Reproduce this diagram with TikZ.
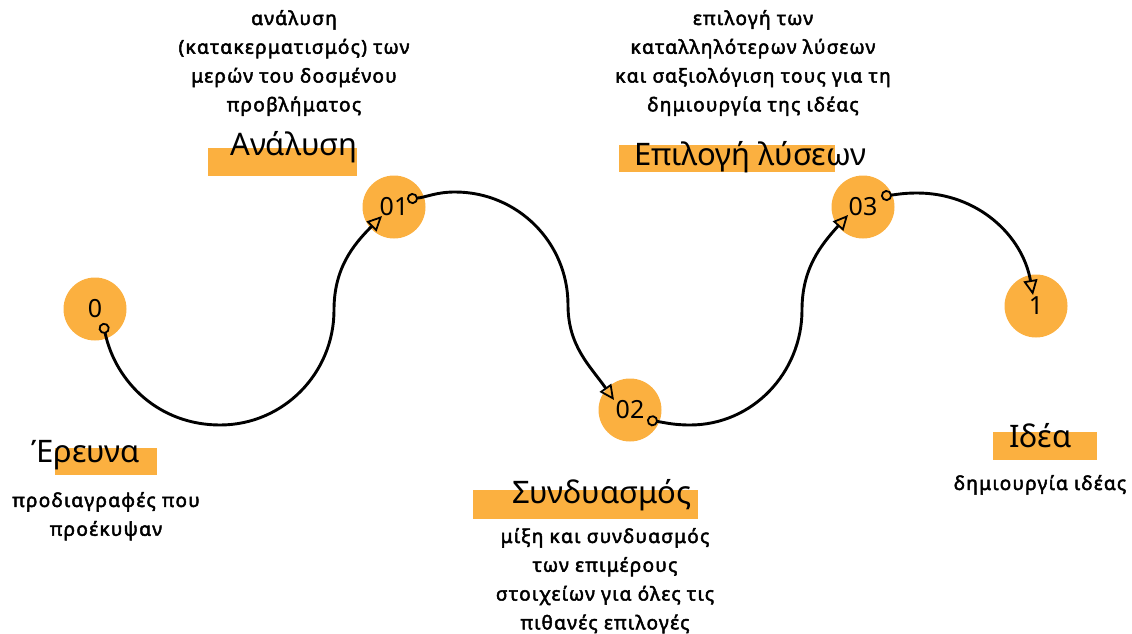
\documentclass[tikz,border=0pt]{standalone}
\usepackage{fontspec}
\setmainfont{Noto Sans}
\newfontfamily\descfont[FakeBold=2.6,LetterSpace=7]{Noto Sans}
\usetikzlibrary{arrows.meta}
\definecolor{accent}{RGB}{251,176,64}
\tikzset{
  stage/.style={circle, fill=accent, minimum size=63pt, inner sep=0pt,
    font=\fontsize{25}{25}\selectfont},
  bar/.style={fill=accent},
  heading/.style={anchor=base west, inner sep=0pt,
    font=\fontsize{31}{31}\selectfont},
  desc/.style={anchor=north, inner sep=0pt, align=center,
    font=\descfont\fontsize{19}{28.8}\selectfont},
  flow/.style={line width=2.9pt,
    arrows={Circle[open,length=11pt,width=11pt,line width=1.8pt]-Triangle[open,length=15pt,width=14pt,line width=1.8pt]}}
}
\begin{document}
\begin{tikzpicture}[x=1pt,y=1pt]
\useasboundingbox (0,0) rectangle (1132,-634);

% stage circles
\node[stage] (n0) at (95,-309)   {0};
\node[stage] (n1) at (394,-207)  {01};
\node[stage] (n2) at (630,-410)  {02};
\node[stage] (n3) at (863,-207)  {03};
\node[stage] (n4) at (1036,-306) {1};

% connector ends and way points
\coordinate (s0) at (103,-323);
\coordinate (w0a) at (220,-425);
\coordinate (w0b) at (334,-310);
\coordinate (e1) at (382,-216);

\coordinate (s1) at (407,-199);
\coordinate (w1a) at (455,-192);
\coordinate (w1b) at (568,-305);
\coordinate (e2) at (614,-400);

\coordinate (s2) at (647,-420);
\coordinate (w2a) at (690,-425);
\coordinate (w2b) at (802,-310);
\coordinate (e3) at (848,-215);

\coordinate (s3) at (881,-196);
\coordinate (w3a) at (917,-193);
\coordinate (e4) at (1033,-295);

\draw[flow] (s0) to[out=-78,in=180] (w0a) to[out=0,in=-90] (w0b) to[out=90,in=-135] (e1);
\draw[flow] (s1) to[out=5,in=180] (w1a) to[out=0,in=90] (w1b) to[out=-90,in=125] (e2);
\draw[flow] (s2) to[out=-8,in=180] (w2a) to[out=0,in=-90] (w2b) to[out=90,in=-132] (e3);
\draw[flow] (s3) to[out=5,in=180] (w3a) to[out=0,in=100] (e4);

% heading bars
\path[bar] (208,-148) rectangle (357,-176);
\path[bar] (619,-145) rectangle (835,-172);
\path[bar] (55,-448) rectangle (157,-475);
\path[bar] (473,-490) rectangle (698,-519);
\path[bar] (993,-432) rectangle (1097,-460);

% headings
\node[heading] (h1) at (230,-155) {Ανάλυση};
\node[heading] (h3) at (634,-165) {Επιλογή λύσεων};
\node[heading] (h0) at (31,-462) {Έρευνα};
\node[heading] (h2) at (512,-503) {Συνδυασμός};
\node[heading] (h4) at (1009,-447) {Ιδέα};

% descriptions
\node[desc] (d1) at (294,-10) {ανάλυση\\(κατακερματισμός) των\\μερών του δοσμένου\\προβλήματος};
\node[desc] (d3) at (753,-10) {επιλογή των\\καταλληλότερων λύσεων\\και σαξιολόγιση τους για τη\\δημιουργία της ιδέας};
\node[desc] (d0) at (106,-492) {προδιαγραφές που\\προέκυψαν};
\node[desc] (d2) at (605,-528) {μίξη και συνδυασμός\\των επιμέρους\\στοιχείων για όλες τις\\πιθανές επιλογές};
\node[desc] (d4) at (1040,-475) {δημιουργία ιδέας};
\end{tikzpicture}
\end{document}
